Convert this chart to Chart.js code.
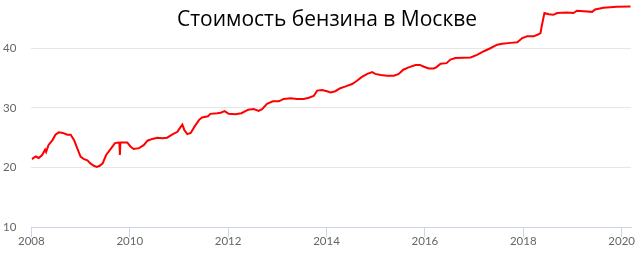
<!DOCTYPE html>
<html>
<head>
<meta charset="utf-8">
<script src="https://cdn.jsdelivr.net/npm/chart.js@4/dist/chart.umd.min.js"></script>
<style>
  html, body { margin: 0; padding: 0; background: #ffffff; }
  #wrap { width: 644px; height: 257px; position: relative; }
</style>
</head>
<body>
<div id="wrap"><canvas id="c" width="644" height="257"></canvas></div>
<script>
const chartTitle = 'Стоимость бензина в Москве';
const seriesName = 'Бензин, руб./л';

// Decimal years (x) and price in roubles (y)
const years = [
  2008.01, 2008.09, 2008.15, 2008.22, 2008.28, 2008.30, 2008.35, 2008.43, 2008.49, 2008.56,
  2008.64, 2008.73, 2008.80, 2008.87, 2008.93, 2009.00, 2009.07, 2009.14, 2009.20, 2009.27,
  2009.33, 2009.39, 2009.45, 2009.52, 2009.61, 2009.70, 2009.77, 2009.79, 2009.80, 2009.81,
  2009.85, 2009.92, 2009.95, 2010.02, 2010.08, 2010.19, 2010.29, 2010.36, 2010.46, 2010.56,
  2010.66, 2010.76, 2010.86, 2010.97, 2011.00, 2011.07, 2011.11, 2011.17, 2011.24, 2011.32,
  2011.41, 2011.47, 2011.59, 2011.64, 2011.78, 2011.85, 2011.93, 2012.01, 2012.15, 2012.27,
  2012.41, 2012.52, 2012.62, 2012.69, 2012.79, 2012.91, 2013.03, 2013.13, 2013.27, 2013.40,
  2013.54, 2013.64, 2013.74, 2013.81, 2013.91, 2014.01, 2014.08, 2014.18, 2014.28, 2014.39,
  2014.52, 2014.62, 2014.72, 2014.83, 2014.93, 2014.99, 2015.10, 2015.23, 2015.37, 2015.47,
  2015.56, 2015.67, 2015.81, 2015.90, 2015.98, 2016.08, 2016.18, 2016.23, 2016.32, 2016.44,
  2016.52, 2016.62, 2016.93, 2017.06, 2017.20, 2017.33, 2017.47, 2017.57, 2017.74, 2017.88,
  2017.98, 2018.08, 2018.21, 2018.30, 2018.35, 2018.38, 2018.43, 2018.52, 2018.61, 2018.69,
  2018.89, 2019.02, 2019.09, 2019.23, 2019.40, 2019.46, 2019.63, 2019.90, 2020.18
];
const prices = [
  21.4, 21.85, 21.6, 22.1, 23.0, 22.6, 23.8, 24.6, 25.5, 25.9,
  25.8, 25.5, 25.5, 24.6, 23.3, 21.85, 21.4, 21.2, 20.7, 20.3,
  20.1, 20.3, 20.7, 22.1, 23.1, 24.1, 24.2, 24.1, 22.1, 24.2,
  24.2, 24.2, 24.2, 23.5, 23.1, 23.25, 23.8, 24.5, 24.8, 25.0,
  24.9, 25.0, 25.5, 26.0, 26.4, 27.2, 26.3, 25.6, 25.8, 26.9,
  28.0, 28.4, 28.6, 29.0, 29.1, 29.2, 29.45, 29.0, 28.95, 29.1,
  29.7, 29.8, 29.5, 29.8, 30.7, 31.1, 31.1, 31.5, 31.6, 31.5,
  31.5, 31.7, 32.0, 32.9, 33.0, 32.8, 32.6, 32.8, 33.3, 33.6,
  34.0, 34.55, 35.2, 35.7, 36.0, 35.7, 35.5, 35.4, 35.4, 35.7,
  36.4, 36.8, 37.2, 37.2, 36.9, 36.6, 36.6, 36.8, 37.4, 37.5,
  38.1, 38.35, 38.45, 38.9, 39.5, 40.0, 40.6, 40.75, 40.9, 41.0,
  41.7, 42.0, 42.0, 42.3, 42.55, 43.9, 45.9, 45.7, 45.6, 45.9,
  46.0, 45.9, 46.3, 46.2, 46.1, 46.5, 46.8, 46.95, 47.0
];

const xTicks = [2008, 2010, 2012, 2014, 2016, 2018, 2020];
const yTicks = [10, 20, 30, 40];

const points = years.map((x, i) => ({ x: x, y: prices[i] }));

// Title drawn over the plot (as in the reference, where the line runs beside it)
const overlayTitle = {
  id: 'overlayTitle',
  afterDraw(chart) {
    const ctx = chart.ctx;
    ctx.save();
    ctx.font = '21px "Open Sans"';
    ctx.fillStyle = '#000000';
    ctx.textAlign = 'center';
    ctx.textBaseline = 'middle';
    ctx.fillText(chartTitle, 327, 20);
    ctx.restore();
  }
};

new Chart(document.getElementById('c'), {
  type: 'line',
  data: {
    datasets: [{
      label: seriesName,
      data: points,
      borderColor: '#ff0000',
      backgroundColor: '#ff0000',
      borderWidth: 2,
      pointRadius: 0,
      tension: 0,
      fill: false
    }]
  },
  options: {
    responsive: false,
    animation: false,
    events: [],
    layout: { padding: { top: 3.5, right: 13, left: 3, bottom: 12 } },
    plugins: {
      legend: { display: false },
      tooltip: { enabled: false },
      title: { display: false }
    },
    scales: {
      x: {
        type: 'linear',
        min: 2008,
        max: 2020.19,
        afterBuildTicks: (s) => { s.ticks = xTicks.map(v => ({ value: v })); },
        ticks: {
          color: '#666666',
          font: { family: 'Lato', size: 11.5 },
          padding: -3,
          maxRotation: 0,
          autoSkip: false,
          callback: (v) => String(v)
        },
        grid: {
          drawOnChartArea: false,
          drawTicks: true,
          tickLength: 10,
          color: '#ccd6eb',
          lineWidth: 1
        },
        border: { display: true, color: '#ccd6eb', width: 1 }
      },
      y: {
        type: 'linear',
        min: 10,
        max: 47.5,
        afterBuildTicks: (s) => { s.ticks = yTicks.map(v => ({ value: v })); },
        ticks: {
          color: '#666666',
          font: { family: 'Lato', size: 11.5, lineHeight: 0.6 },
          padding: 0,
          callback: (v) => String(v)
        },
        grid: {
          drawTicks: true,
          tickLength: 15,
          tickColor: 'rgba(0,0,0,0)',
          color: '#e6e6e6',
          lineWidth: 1
        },
        border: { display: false }
      }
    }
  },
  plugins: [overlayTitle]
});
</script>
</body>
</html>
